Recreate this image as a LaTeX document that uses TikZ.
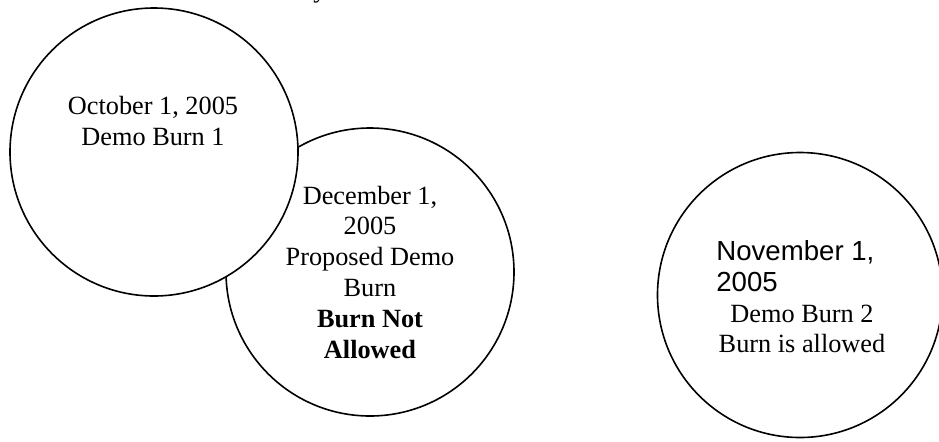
\documentclass[tikz,border=0pt]{standalone}
\usepackage{fontspec}
\setmainfont{Liberation Serif}
\setsansfont{Liberation Sans}
\usetikzlibrary{positioning}
\tikzset{
    burncircle/.style={circle, draw, line width=0.8pt, fill=white,
        minimum size=144pt, inner sep=0pt},
    burntext/.style={align=center, inner sep=0pt,
        font=\fontsize{13.15}{15.4}\selectfont},
    datetext/.style={align=left, inner sep=0pt,
        font=\sffamily\fontsize{13.8}{15.8}\selectfont}
}

\begin{document}
\begin{tikzpicture}[x=0.5pt, y=-0.5pt]
\useasboundingbox (0,0) rectangle (939,441);

\node[burntext, anchor=base] (topcut) at (320,-3) {y};

\node[burncircle] (dec) at (370,272) {};
\node[burncircle] (oct) at (154,152) {};
\node[burncircle, minimum size=142.5pt] (nov) at (800,295) {};

\node[burntext] (octtext) at (153,121) {October 1, 2005\\Demo Burn 1};
\node[burntext] (dectext) at (dec) {December 1,\\2005\\Proposed Demo\\Burn\\
    \textbf{Burn Not}\\\textbf{Allowed}};
\node[datetext, anchor=west] (novdate) at (716,266) {November 1,\\2005};
\node[burntext] (novtext) at (802,329) {Demo Burn 2\\Burn is allowed};
\end{tikzpicture}
\end{document}
